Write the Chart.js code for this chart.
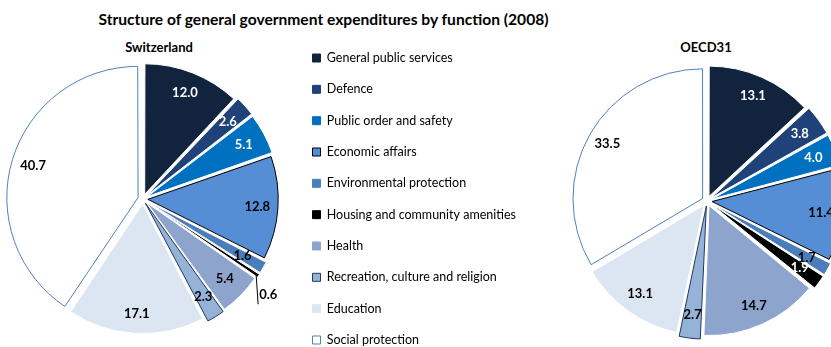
<!doctype html>
<html lang="en">
<head>
<meta charset="utf-8">
<title>Structure of general government expenditures by function (2008)</title>
<script src="https://cdn.jsdelivr.net/npm/chart.js@4.4.1/dist/chart.umd.min.js"></script>
<style>
  html, body { margin: 0; padding: 0; background: #fff; }
  body { position: relative; width: 831px; height: 347px; overflow: hidden; font-family: Lato, "Open Sans", sans-serif; color: #000; }
  .title { position: absolute; left: 0; width: 647px; top: 9px; text-align: center; font-weight: bold; font-size: 15.6px; line-height: 20px; }
  .sub { position: absolute; width: 200px; top: 39px; text-align: center; font-weight: bold; font-size: 13px; line-height: 16px; }
  canvas { position: absolute; }
</style>
</head>
<body>
<div class="title">Structure of general government expenditures by function (2008)</div>
<div class="sub" style="left:59px">Switzerland</div>
<div class="sub" style="left:606px">OECD31</div>
<canvas id="chChart"></canvas>
<canvas id="oecdChart"></canvas>

<script>
// share of total general government expenditure, %
const functions = [
  'General public services', 'Defence', 'Public order and safety', 'Economic affairs',
  'Environmental protection', 'Housing and community amenities', 'Health',
  'Recreation, culture and religion', 'Education', 'Social protection'
];
const switzerland = [12.0, 2.6, 5.1, 12.8, 1.6, 0.6, 5.4, 2.3, 17.1, 40.7];
const oecd31 = [13.1, 3.8, 4.0, 11.4, 1.7, 1.9, 14.7, 2.7, 13.1, 33.5];

const fills = ['#12243D', '#1F4379', '#0070C0', '#558ED5', '#4A7EBB', '#000000', '#8DA5CC', '#95B3D7', '#DCE6F2', '#FFFFFF'];
const borders = ['#fff', '#fff', '#fff', '#000', '#fff', '#fff', '#fff', '#1F3864', '#fff', '#4F81BD'];
const labelColors = ['#fff', '#fff', '#fff', '#000', '#000', '#fff', '#000', '#000', '#000', '#000'];

const FONT = 'Lato, "Open Sans", sans-serif';
const PIE_R = 129;
const EXPLODE = 20;          // arc offset; the arc is shifted by a quarter of it
const LEGEND_FONT = 12.5;
const ROW = 31.33;           // legend row pitch
const LEGEND_PAD = ROW - LEGEND_FONT;

// values printed inside the slices, tiny ones get a leader line
const sliceLabels = {
  id: 'sliceLabels',
  afterDatasetsDraw(chart) {
    const ctx = chart.ctx;
    const ds = chart.data.datasets[0];
    const shift = EXPLODE / 4;
    ctx.save();
    ctx.font = 'bold 13px ' + FONT;
    ctx.textBaseline = 'middle';
    chart.getDatasetMeta(0).data.forEach((arc, i) => {
      const v = ds.data[i];
      const mid = (arc.startAngle + arc.endAngle) / 2;
      const cos = Math.cos(mid), sin = Math.sin(mid);
      const text = v.toFixed(1);
      if (v < 1) {
        const ex = arc.x + cos * (arc.outerRadius + shift + 2);
        const ey = arc.y + sin * (arc.outerRadius + shift + 2);
        ctx.strokeStyle = '#000';
        ctx.lineWidth = 1;
        ctx.beginPath();
        ctx.moveTo(ex, ey);
        ctx.lineTo(ex + 2, ey + 30);
        ctx.stroke();
        ctx.fillStyle = '#000';
        ctx.textAlign = 'left';
        ctx.fillText(text, ex + 3, ey + 21);
        return;
      }
      const r = arc.outerRadius * 0.85 + shift;
      ctx.textAlign = 'center';
      ctx.fillStyle = labelColors[i];
      ctx.fillText(text, arc.x + cos * r, arc.y + sin * r);
    });
    ctx.restore();
  }
};

function pieData(values) {
  return {
    labels: functions,
    datasets: [{
      data: values,
      backgroundColor: fills,
      borderColor: borders,
      borderWidth: 1,
      offset: EXPLODE,
      radius: PIE_R
    }]
  };
}

// Switzerland canvas also carries the legend on its right side
const chCanvas = document.getElementById('chChart');
const m = document.createElement('canvas').getContext('2d');
m.font = LEGEND_FONT + 'px ' + FONT;
const textW = Math.max(...functions.map(t => m.measureText(t).width));
const legendLeft = 301.3;
chCanvas.width = Math.ceil(legendLeft + LEGEND_PAD + 8 + LEGEND_FONT / 2 + textW + 10);
chCanvas.height = 340;
chCanvas.style.left = (142.5 - legendLeft / 2) + 'px';
chCanvas.style.top = '29px';

new Chart(chCanvas, {
  type: 'pie',
  data: pieData(switzerland),
  options: {
    responsive: false,
    animation: false,
    layout: { padding: 0 },
    plugins: {
      tooltip: { enabled: false },
      legend: {
        position: 'right',
        align: 'center',
        labels: {
          boxWidth: 8,
          boxHeight: 8,
          padding: LEGEND_PAD,
          color: '#000',
          font: { family: FONT, size: LEGEND_FONT },
          generateLabels(chart) {
            const items = Chart.overrides.pie.plugins.legend.labels.generateLabels(chart);
            items.forEach((it, i) => {
              it.lineWidth = 1;
              it.strokeStyle = borders[i] === '#fff' ? fills[i] : borders[i];
            });
            return items;
          }
        }
      }
    }
  },
  plugins: [sliceLabels]
});

const oecdCanvas = document.getElementById('oecdChart');
oecdCanvas.width = 300;
oecdCanvas.height = 300;
oecdCanvas.style.left = '557px';
oecdCanvas.style.top = '51px';

new Chart(oecdCanvas, {
  type: 'pie',
  data: pieData(oecd31),
  options: {
    responsive: false,
    animation: false,
    plugins: {
      tooltip: { enabled: false },
      legend: { display: false }
    }
  },
  plugins: [sliceLabels]
});
</script>
</body>
</html>
